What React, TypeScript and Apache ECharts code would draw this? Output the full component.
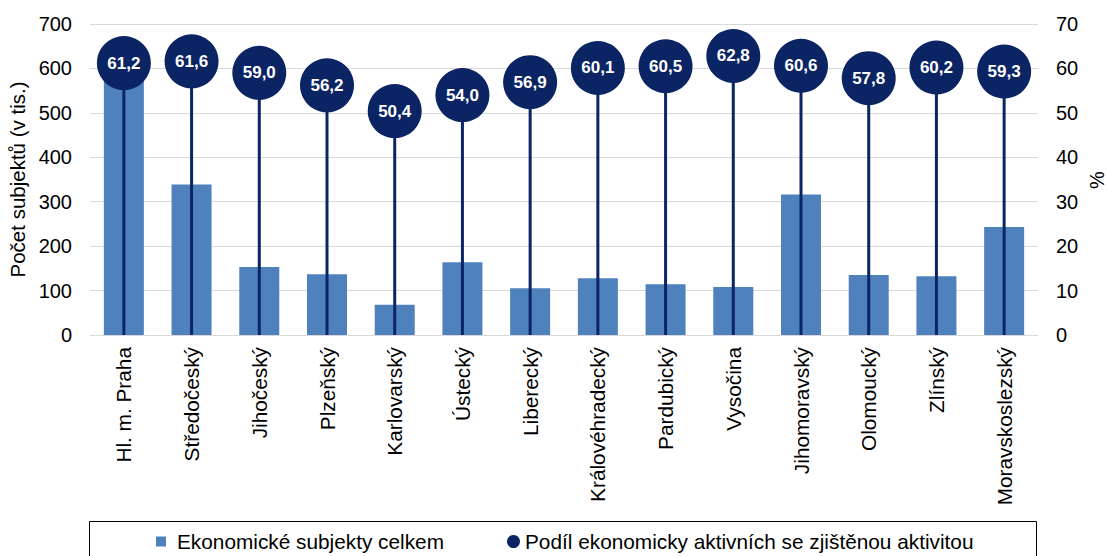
import React, { useEffect, useRef } from "react";
import * as echarts from "echarts";

const regions = [
  "Hl. m. Praha",
  "Středočeský",
  "Jihočeský",
  "Plzeňský",
  "Karlovarský",
  "Ústecký",
  "Liberecký",
  "Královéhradecký",
  "Pardubický",
  "Vysočina",
  "Jihomoravský",
  "Olomoucký",
  "Zlínský",
  "Moravskoslezský",
];

const subjectsTotal = [615, 339, 153, 137, 68, 164, 105, 128, 114, 108, 316, 135, 132, 243];

const activeShare = [61.2, 61.6, 59.0, 56.2, 50.4, 54.0, 56.9, 60.1, 60.5, 62.8, 60.6, 57.8, 60.2, 59.3];

const barName = "Ekonomické subjekty celkem";
const dotName = "Podíl ekonomicky aktivních se zjištěnou aktivitou";
const rightAxisName = "%";

const FONT = "'Liberation Sans', Arial, sans-serif";
const BAR_COLOR = "#4f81bd";
const DOT_COLOR = "#0b2463";
const GRID_COLOR = "#d9d9d9";

export default function App() {
  const ref = useRef<HTMLDivElement>(null);

  useEffect(() => {
    if (!ref.current) return;
    const chart = echarts.init(ref.current, undefined, { renderer: "svg" });
    chart.setOption({
      animation: false,
      textStyle: { fontFamily: FONT },
      grid: {
        left: 90,
        right: 70,
        top: 24,
        bottom: 221,
        containLabel: false,
        outerBoundsMode: "none",
      },
      graphic: [
        {
          type: "rect",
          shape: { x: 89.5, y: 521.5, width: 947, height: 60 },
          style: { fill: "none", stroke: "#000", lineWidth: 1 },
          silent: true,
        },
        {
          type: "text",
          x: 1097,
          y: 180,
          rotation: Math.PI / 2,
          style: {
            text: rightAxisName,
            fontSize: 20,
            fontFamily: FONT,
            fill: "#000",
            align: "center",
            verticalAlign: "middle",
          },
          silent: true,
        },
      ],
      legend: [
        {
          left: 156,
          top: 531,
          padding: 0,
          itemWidth: 10,
          itemHeight: 10,
          icon: "rect",
          data: [barName],
          textStyle: { fontSize: 20.8, color: "#000", fontFamily: FONT, lineHeight: 20, padding: [0, 0, 0, 6] },
        },
        {
          left: 507,
          top: 531,
          padding: 0,
          itemWidth: 13,
          itemHeight: 13,
          icon: "circle",
          data: [dotName],
          textStyle: { fontSize: 20.8, color: "#000", fontFamily: FONT, lineHeight: 20 },
        },
      ],
      xAxis: {
        type: "category",
        data: regions,
        axisLine: { show: true, lineStyle: { color: GRID_COLOR, width: 1 } },
        axisTick: { show: false },
        axisLabel: {
          rotate: 90,
          interval: 0,
          margin: 12,
          fontSize: 20.8,
          color: "#000",
          fontFamily: FONT,
        },
      },
      yAxis: [
        {
          type: "value",
          min: 0,
          max: 700,
          interval: 100,
          name: "Počet subjektů (v tis.)",
          nameLocation: "middle",
          nameGap: 60,
          nameRotate: 90,
          nameTextStyle: { fontSize: 20.5, color: "#000", fontFamily: FONT },
          axisLine: { show: false },
          axisTick: { show: false },
          splitLine: { show: true, lineStyle: { color: GRID_COLOR, width: 1 } },
          axisLabel: { fontSize: 20, color: "#000", margin: 18, fontFamily: FONT },
        },
        {
          type: "value",
          min: 0,
          max: 70,
          interval: 10,
          axisLine: { show: false },
          axisTick: { show: false },
          splitLine: { show: false },
          axisLabel: { fontSize: 20, color: "#000", margin: 18, fontFamily: FONT },
        },
      ],
      series: [
        {
          name: barName,
          type: "bar",
          data: subjectsTotal,
          yAxisIndex: 0,
          barWidth: 40,
          itemStyle: { color: BAR_COLOR },
          z: 2,
        },
        {
          type: "custom",
          yAxisIndex: 1,
          data: activeShare.map((v, i) => [i, v]),
          z: 3,
          renderItem: (params: any, api: any) => {
            const idx = api.value(0);
            const val = api.value(1);
            const p0 = api.coord([idx, 0]);
            const p1 = api.coord([idx, val]);
            return {
              type: "line",
              shape: { x1: p0[0], y1: p0[1], x2: p1[0], y2: p1[1] },
              style: { stroke: DOT_COLOR, lineWidth: 3 },
            };
          },
        },
        {
          name: dotName,
          type: "scatter",
          yAxisIndex: 1,
          data: activeShare,
          symbol: "circle",
          symbolSize: 54,
          itemStyle: { color: DOT_COLOR, opacity: 1 },
          z: 4,
          label: {
            show: true,
            position: "inside",
            color: "#fff",
            fontWeight: "bold",
            fontSize: 17,
            fontFamily: FONT,
            formatter: (p: any) => Number(p.value).toFixed(1).replace(".", ","),
          },
        },
      ],
    });
    return () => chart.dispose();
  }, []);

  return (
    <div
      ref={ref}
      style={{ position: "fixed", left: 0, top: 0, width: 1108, height: 556, background: "#fff" }}
    />
  );
}
